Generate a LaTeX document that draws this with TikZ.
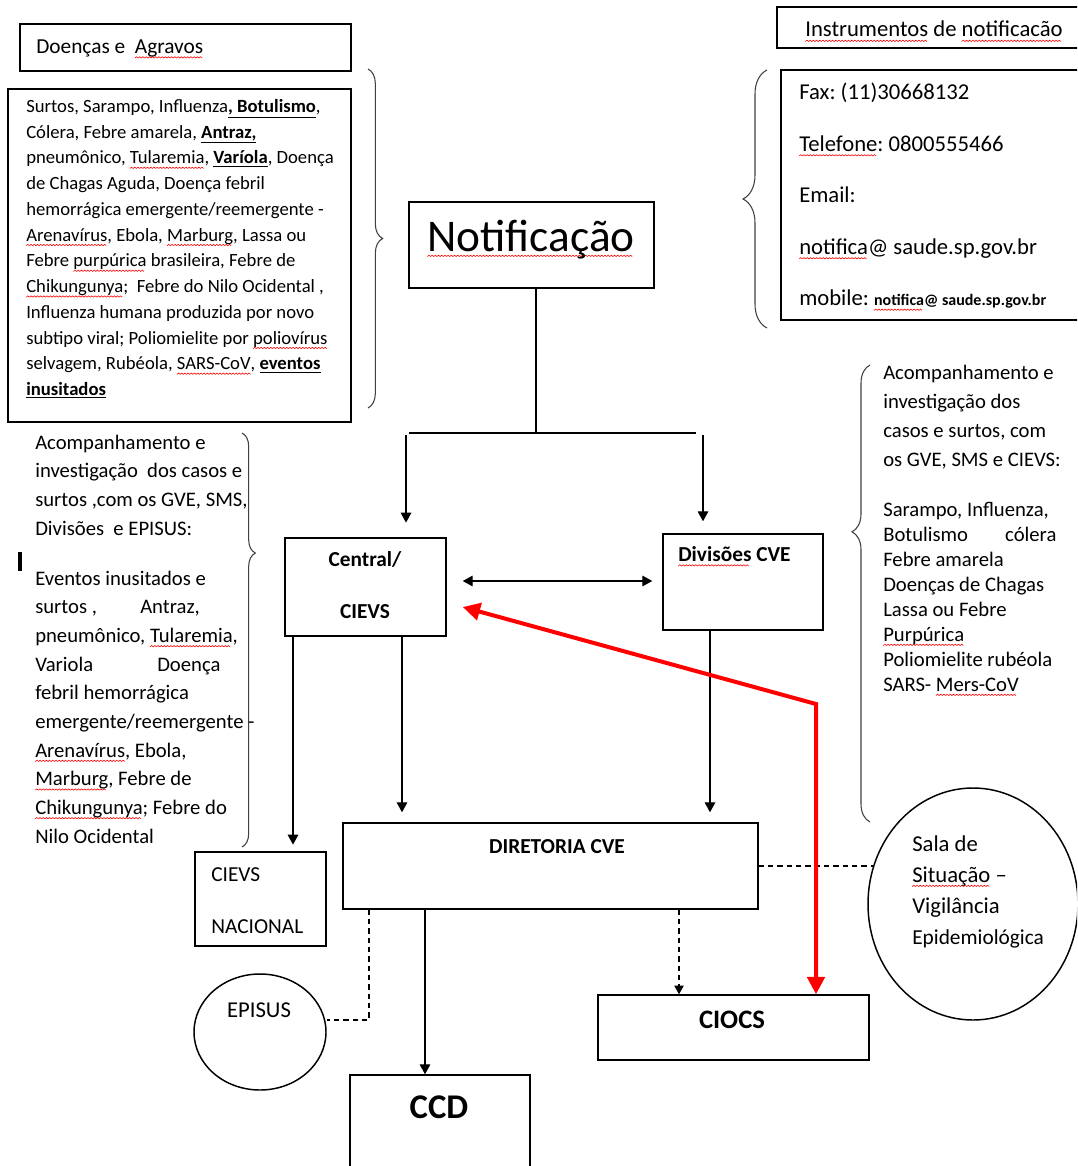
\documentclass[tikz,border=0pt]{standalone}
\usepackage{fontspec}
\setmainfont{Carlito}
\usepackage{tikz}
\usetikzlibrary{arrows.meta, fit, shapes.geometric, decorations.pathreplacing}

\newsavebox\wavebox
\newsavebox\spword
\newcommand\spchk[1]{\sbox\spword{#1}\leavevmode\rlap{\raisebox{-3.4pt}{\hbox to \wd\spword{\leaders\copy\wavebox\hfill}}}\usebox\spword}

\begin{document}
\frenchspacing
\sbox\wavebox{\begin{pgfpicture}%
    \pgfpathrectangle{\pgfpoint{0pt}{0pt}}{\pgfpoint{2.4pt}{1pt}}\pgfusepath{use as bounding box}%
    \pgfpathmoveto{\pgfpoint{0pt}{0pt}}\pgfpathlineto{\pgfpoint{1.2pt}{1pt}}\pgfpathlineto{\pgfpoint{2.4pt}{0pt}}%
    \pgfsetlinewidth{0.45pt}\pgfsetstrokecolor{red}\pgfusepath{stroke}%
\end{pgfpicture}}%
\begin{tikzpicture}[
    x=0.75pt, y=-0.75pt,
    box/.style={draw, line width=1.1pt, inner sep=0pt},
    oval/.style={draw, ellipse, line width=1.1pt, inner sep=0pt},
    txt/.style={inner sep=0pt, text width=#1, align=flush left},
    txt/.default=250pt,
    word/.style={inner sep=0pt},
    link/.style={line width=0.9pt},
    arrow/.style={-{Triangle[length=7.5pt, width=8pt]}, line width=0.9pt},
    dblarrow/.style={{Triangle[length=7.5pt, width=8pt]}-{Triangle[length=7.5pt, width=8pt]}, line width=0.9pt},
    dashline/.style={line width=0.9pt, dash pattern=on 4pt off 3pt},
    dasharrow/.style={-{Triangle[length=6.5pt, width=7pt]}, line width=0.9pt, dash pattern=on 4pt off 3pt},
    redarrow/.style={{Triangle[length=13pt, width=13pt]}-{Triangle[length=13pt, width=13pt]}, line width=3pt, red},
    bracket/.style={decorate, line width=0.8pt, black!75}
]
    \useasboundingbox (0,0) rectangle (1077,1166);
    \clip (0,0) rectangle (1077,1166);

    \node[box, fit={(20,24) (351,71)}] (agr) {};
    \node[word, anchor=base west, font={\fontsize{16}{20}\selectfont}] (agrtxt) at (36,53.5) {Doenças e \ \spchk{Agravos}};
    \node[box, fit={(8,89) (351,422)}] (surtos) {};
    \node[txt, anchor=base west, font={\fontsize{14}{19.3}\selectfont}] (surtostxt) at (26,112.5) {%
        Surtos, Sarampo, Influenza\underline{\textbf{, Botulismo}},\\
        Cólera, Febre amarela, \underline{\textbf{Antraz,}}\\
        pneumônico, \spchk{Tularemia}, \underline{\textbf{Varíola}}, Doença\\
        de Chagas Aguda, Doença febril\\
        hemorrágica emergente/reemergente -\\
        \spchk{Arenavírus}, Ebola, \spchk{Marburg}, Lassa ou\\
        Febre \spchk{purpúrica} brasileira, Febre de\\
        \spchk{Chikungunya}; \ Febre do Nilo Ocidental ,\\
        Influenza humana produzida por novo\\
        subtipo viral; Poliomielite por \spchk{poliovírus}\\
        selvagem, Rubéola, \spchk{SARS-CoV}, \underline{\textbf{eventos}}\\
        \underline{\textbf{inusitados}}};

    \node[box, fit={(777,7) (1082,48)}] (instr) {};
    \node[word, anchor=base, font={\fontsize{17}{20}\selectfont}] (instrtxt) at (934,37) {\spchk{Instrumentos} de \spchk{notificacão}};
    \node[box, fit={(781,70) (1082,320)}] (fax) {};
    \node[txt, anchor=base west, font={\fontsize{17}{38.6}\selectfont}] (faxtxt) at (799,100) {%
        Fax: (11)30668132\\
        \spchk{Telefone}: 0800555466\\
        Email:\\
        \spchk{notifica}@ saude.sp.gov.br\\
        mobile: {\fontsize{12}{12}\selectfont\bfseries\spchk{notifica}@ saude.sp.gov.br}};

    \node[box, fit={(409,202) (654,288)}] (notif) {};
    \node[word, anchor=base, font={\fontsize{34}{40}\selectfont}] (notiftxt) at (531,252) {\spchk{Notificação}};

    \node[box, fit={(285,538) (446,636)}] (central) {};
    \node[txt=100pt, align=flush center, anchor=base, font={\fontsize{16}{39}\selectfont\bfseries}] (centraltxt) at (365,566.5) {Central/\\CIEVS};
    \node[box, fit={(663,534) (823,630)}] (div) {};
    \node[word, anchor=base west, font={\fontsize{16}{20}\selectfont\bfseries}] (divtxt) at (678,561.5) {\spchk{Divisões} CVE};

    \node[box, fit={(195,852) (326,946)}] (cievsn) {};
    \node[txt=100pt, anchor=base west, font={\fontsize{16}{39}\selectfont}] (cievsntxt) at (211,881) {CIEVS\\NACIONAL};
    \node[box, fit={(343,823) (758,909)}] (dir) {};
    \node[word, anchor=base, font={\fontsize{16}{20}\selectfont\bfseries}] (dirtxt) at (557,853) {DIRETORIA CVE};
    \node[oval, minimum width=157.5pt, minimum height=174pt] (sala) at (973,904) {};
    \node[txt=120pt, anchor=base west, font={\fontsize{17}{23.25}\selectfont}] (salatxt) at (912,851) {%
        Sala de\\
        \spchk{Situação} –\\
        Vigilância\\
        {\fontsize{16}{23.25}\selectfont Epidemiológica}};
    \node[oval, minimum width=99pt, minimum height=87pt] (episus) at (260,1032) {};
    \node[word, anchor=base, font={\fontsize{17}{20}\selectfont}] (episustxt) at (259,1017) {EPISUS};
    \node[box, fit={(598,995) (869,1060)}] (ciocs) {};
    \node[word, anchor=base, font={\fontsize{20}{24}\selectfont\bfseries}] (ciocstxt) at (732,1028.5) {CIOCS};
    \node[box, fit={(350,1075) (530,1172)}] (ccd) {};
    \node[word, anchor=base, font={\fontsize{26}{30}\selectfont\bfseries}] (ccdtxt) at (439,1118) {CCD};

    \node[txt=240pt, anchor=base west, font={\fontsize{15.5}{21.5}\selectfont}] (lcol) at (35,449) {%
        Acompanhamento e\\
        investigação \ dos casos e\\
        surtos ,com os GVE, SMS,\\
        Divisões \ e EPISUS:\\[16pt]
        Eventos inusitados e\\
        \makebox[78.75pt][l]{surtos ,}Antraz,\\
        pneumônico, \spchk{Tularemia},\\
        \makebox[91.5pt][l]{Variola}Doença\\
        febril hemorrágica\\
        emergente/reemergente -\\
        \spchk{Arenavírus}, Ebola,\\
        \spchk{Marburg}, Febre de\\
        \spchk{Chikungunya}; Febre do\\
        Nilo Ocidental};
    \node[txt=200pt, anchor=base west, font={\fontsize{15.5}{21.75}\selectfont}] (rcoltop) at (883,379) {%
        Acompanhamento e\\
        investigação dos\\
        casos e surtos, com\\
        os GVE, SMS e CIEVS:};
    \node[txt=200pt, anchor=base west, font={\fontsize{15.5}{18.75}\selectfont}] (rcolbot) at (883,516) {%
        Sarampo, Influenza,\\
        \makebox[91.5pt][l]{Botulismo}cólera\\
        Febre amarela\\
        Doenças de Chagas\\
        Lassa ou Febre\\
        \spchk{Purpúrica}\\
        Poliomielite rubéola\\
        SARS- \spchk{Mers-CoV}};

    \draw[bracket, decoration={brace, amplitude=11pt, aspect=0.5}] (368,69) -- (368,408);
    \draw[bracket, decoration={brace, amplitude=18pt, aspect=0.5}] (767,328) -- (767,70);
    \draw[bracket, decoration={brace, amplitude=10pt, aspect=0.29}] (242,433) -- (242,847);
    \draw[bracket, decoration={brace, amplitude=13.5pt, aspect=0.635}] (870,822) -- (870,365);
    \fill (18,552) rectangle (22,571);

    \coordinate (split) at (536,433);
    \coordinate (barl) at (409,433);
    \coordinate (barr) at (696,433);
    \coordinate (toc) at (406,435);
    \coordinate (tod) at (703,435);
    \coordinate (c1) at ([shift={(-72.5,0)}]central.south);
    \coordinate (c2) at ([shift={(36.5,0)}]central.south);
    \coordinate (d1) at ([shift={(-33,0)}]div.south);
    \coordinate (e1) at ([shift={(-181.5,0)}]dir.south);
    \coordinate (e2) at ([shift={(-125.5,0)}]dir.south);
    \coordinate (e3) at ([shift={(128.5,0)}]dir.south);
    \coordinate (rbend) at (816,704);

    \draw[link] (notif.south -| split) -- (split);
    \draw[link] (barl) -- (barr);
    \draw[arrow, shorten >=11pt] (toc) -- (toc |- central.north);
    \draw[arrow, shorten >=9pt] (tod) -- (tod |- div.north);
    \draw[dblarrow] ([shift={(16,-6)}]central.east) -- ([shift={(-10,-1)}]div.west);
    \draw[arrow, shorten >=5pt] (c1) -- (c1 |- cievsn.north);
    \draw[arrow, shorten >=7.5pt] (c2) -- (c2 |- dir.north);
    \draw[arrow, shorten >=7.5pt] (d1) -- (d1 |- dir.north);
    \draw[arrow] (e2) -- (e2 |- ccd.north);
    \draw[dasharrow] (e3) -- (e3 |- ciocs.north);
    \draw[dashline] (e1) |- ([shift={(0,-12)}]episus.east);
    \draw[dashline] (dir.east) -- (dir.east -| sala.160);
    \draw[redarrow] ([shift={(16,20)}]central.east) -- (rbend) -- (rbend |- ciocs.north);
\end{tikzpicture}
\end{document}
